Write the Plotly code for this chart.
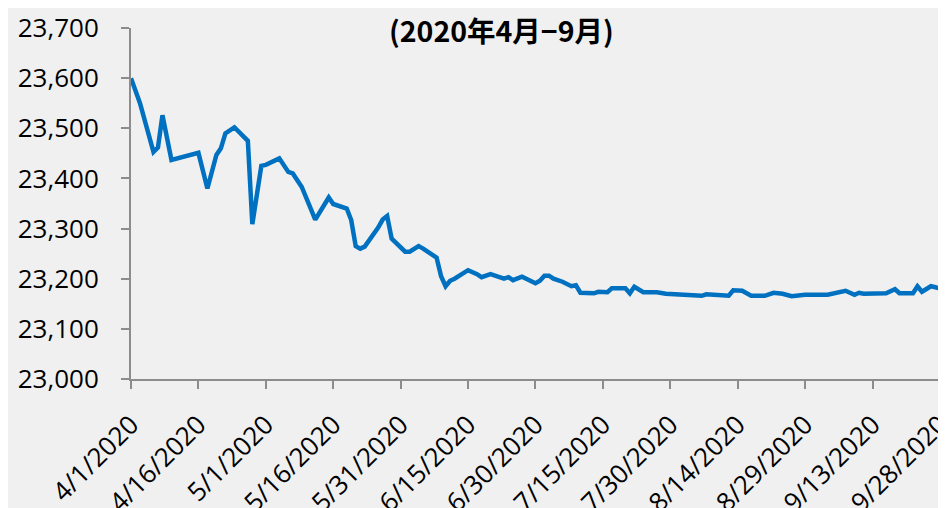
import plotly.graph_objects as go

# dates and rate values
dates = ["2020-04-01", "2020-04-03", "2020-04-06", "2020-04-07", "2020-04-08", "2020-04-10",
         "2020-04-16", "2020-04-18", "2020-04-20", "2020-04-21", "2020-04-22", "2020-04-24",
         "2020-04-27", "2020-04-28", "2020-04-30", "2020-05-01", "2020-05-04", "2020-05-06",
         "2020-05-07", "2020-05-09", "2020-05-12", "2020-05-13", "2020-05-15", "2020-05-16",
         "2020-05-19", "2020-05-20", "2020-05-21", "2020-05-22", "2020-05-23", "2020-05-26",
         "2020-05-27", "2020-05-28", "2020-05-29", "2020-06-01", "2020-06-02", "2020-06-04",
         "2020-06-05", "2020-06-08", "2020-06-09", "2020-06-10", "2020-06-11", "2020-06-12",
         "2020-06-15", "2020-06-17", "2020-06-18", "2020-06-20", "2020-06-23", "2020-06-24",
         "2020-06-25", "2020-06-27", "2020-06-30", "2020-07-01", "2020-07-02", "2020-07-03",
         "2020-07-04", "2020-07-06", "2020-07-08", "2020-07-09", "2020-07-10", "2020-07-13",
         "2020-07-14", "2020-07-16", "2020-07-17", "2020-07-20", "2020-07-21", "2020-07-22",
         "2020-07-24", "2020-07-27", "2020-07-29", "2020-08-02", "2020-08-06", "2020-08-07",
         "2020-08-12", "2020-08-13", "2020-08-15", "2020-08-17", "2020-08-20", "2020-08-22",
         "2020-08-24", "2020-08-26", "2020-08-29", "2020-09-03", "2020-09-07", "2020-09-09",
         "2020-09-10", "2020-09-11", "2020-09-15", "2020-09-16", "2020-09-18", "2020-09-19",
         "2020-09-22", "2020-09-23", "2020-09-24", "2020-09-26", "2020-09-27", "2020-09-30"]
values = [23600, 23550, 23453, 23462, 23526, 23437,
          23451, 23380, 23447, 23460, 23490, 23502,
          23475, 23309, 23425, 23427, 23440, 23413,
          23410, 23383, 23318, 23334, 23362, 23349,
          23340, 23317, 23265, 23260, 23264, 23302,
          23318, 23325, 23280, 23254, 23254, 23265,
          23260, 23242, 23205, 23185, 23196, 23200,
          23217, 23209, 23203, 23209, 23200, 23203,
          23197, 23204, 23191, 23196, 23206, 23206,
          23200, 23194, 23185, 23187, 23172, 23171,
          23174, 23173, 23181, 23181, 23171, 23184,
          23173, 23173, 23170, 23168, 23166, 23169,
          23166, 23177, 23176, 23166, 23166, 23172,
          23170, 23165, 23168, 23168, 23176, 23168,
          23172, 23170, 23170, 23171, 23179, 23171,
          23171, 23185, 23174, 23185, 23183, 23175]

tick_dates = ["2020-04-01", "2020-04-16", "2020-05-01", "2020-05-16", "2020-05-31",
              "2020-06-15", "2020-06-30", "2020-07-15", "2020-07-30", "2020-08-14",
              "2020-08-29", "2020-09-13", "2020-09-28"]
y_ticks = [23000, 23100, 23200, 23300, 23400, 23500, 23600, 23700]
title = "(2020年4月−9月)"

bg = "#f0f0f0"
axis_col = "#8c8c8c"

fig = go.Figure()
fig.add_trace(go.Scatter(x=dates, y=values, mode="lines",
                         line=dict(color="#0070c0", width=4.5), hoverinfo="skip"))

fig.add_annotation(text="<b>" + title + "</b>", xref="paper", yref="paper",
                   x=0.454, y=0.997, xanchor="center", yanchor="middle", showarrow=False,
                   font=dict(family="Noto Sans CJK SC", size=28.5, color="#000000"))

# the page sits 8px in from the top-left corner of the window;
# the paper runs past the window so no white strip shows
fig.update_layout(
    width=946, height=508,
    margin=dict(l=123, r=8, t=20, b=137),
    paper_bgcolor=bg, plot_bgcolor=bg,
    showlegend=False,
    font=dict(family="Open Sans", size=26, color="#000000"),
)
fig.update_xaxes(type="date", range=["2020-04-01", "2020-09-29 08:24"], automargin=False,
                 tickvals=tick_dates, tickformat="%-m/%-d/%Y", tickangle=-45,
                 ticklabeloverflow="allow",
                 showgrid=False, zeroline=False, showline=True, linecolor=axis_col, linewidth=2,
                 ticks="outside", ticklen=8, tickwidth=2, tickcolor=axis_col,
                 ticklabelstandoff=10)
fig.update_yaxes(range=[23000, 23700], tickvals=y_ticks, tickformat=",", automargin=False,
                 showgrid=False, zeroline=False, showline=True, linecolor=axis_col, linewidth=2,
                 ticks="outside", ticklen=8, tickwidth=2, tickcolor=axis_col,
                 ticklabelstandoff=17)

fig.write_html("out.html")
